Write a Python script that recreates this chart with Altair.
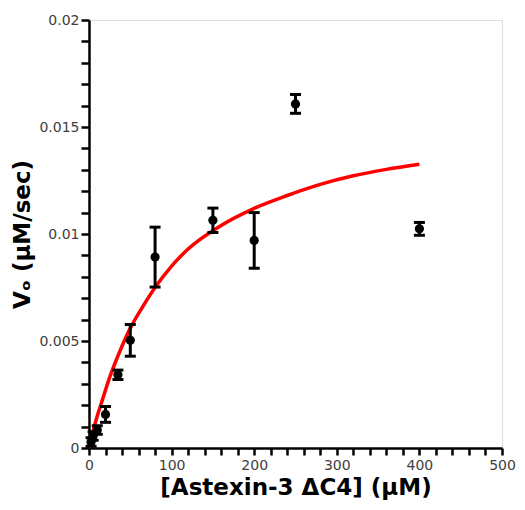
import altair as alt
import pandas as pd

# measured data
conc = [2.5, 5, 10, 20, 35, 50, 80, 150, 200, 250, 400]
rate = [0.00028, 0.00056, 0.00084, 0.00157, 0.00342, 0.00503, 0.00892, 0.01064, 0.00970, 0.01608, 0.01024]
err = [0.0002, 0.0002, 0.0002, 0.00037, 0.00022, 0.00074, 0.0014, 0.00057, 0.0013, 0.00044, 0.0003]

# fitted curve
fit_x = [0, 5, 10, 15, 25, 35, 50, 65, 80, 100, 120, 160, 200, 240, 280, 320, 360, 400]
fit_y = [0.0, 0.0008, 0.0015, 0.0021, 0.0033, 0.0043, 0.0056, 0.0066, 0.0075, 0.0085,
         0.0093, 0.0104, 0.0112, 0.0118, 0.01232, 0.01272, 0.01302, 0.01326]

x_ticks = [0, 20, 40, 60, 80, 100, 120, 140, 160, 180, 200, 220, 240, 260, 280, 300,
           320, 340, 360, 380, 400, 420, 440, 460, 480, 500]
y_ticks = [0, 0.001, 0.002, 0.003, 0.004, 0.005, 0.006, 0.007, 0.008, 0.009, 0.010,
           0.011, 0.012, 0.013, 0.014, 0.015, 0.016, 0.017, 0.018, 0.019, 0.020]

df = pd.DataFrame({"x": conc, "y": rate, "err": err})
df["lo"] = df["y"] - df["err"]
df["hi"] = df["y"] + df["err"]
fit = pd.DataFrame({"x": fit_x, "y": fit_y})

FONT = "DejaVu Sans"

xscale = alt.Scale(domain=[0, 500], nice=False, zero=True)
yscale = alt.Scale(domain=[0, 0.02], nice=False, zero=True)

xaxis = alt.Axis(
    values=x_ticks,
    labelExpr="datum.value % 100 == 0 ? datum.label : ''",
    title="[Astexin-3 \u0394C4] (\u03bcM)",
    grid=False, domainColor="black", domainWidth=2.5,
    tickColor="black", tickWidth=2.5, tickSize=7,
    labelFont=FONT, labelFontSize=14, labelColor="#404040", labelPadding=3,
    titleFont=FONT, titleFontSize=23, titleFontWeight="bold", titleColor="black",
    titlePadding=4, labelFlush=False, labelOverlap=False,
)
yaxis = alt.Axis(
    values=y_ticks,
    labelExpr="round(datum.value*1000) % 5 == 0 ? format(datum.value, '~g') : ''",
    title="V\u2092 (\u03bcM/sec)",
    grid=False, domainColor="black", domainWidth=2.5,
    tickColor="black", tickWidth=2.5, tickSize=8,
    labelFont=FONT, labelFontSize=14, labelColor="#404040", labelPadding=2,
    titleFont=FONT, titleFontSize=23, titleFontWeight="bold", titleColor="black",
    titlePadding=5, minExtent=50, maxExtent=50, labelFlush=False, labelOverlap=False,
)


def X():
    return alt.X("x:Q", scale=xscale, axis=xaxis)


def Y(field):
    return alt.Y(field + ":Q", scale=yscale, axis=yaxis)


curve = alt.Chart(fit).mark_line(color="#ff0000", strokeWidth=3.5, interpolate="monotone").encode(
    x=X(), y=Y("y"),
)
bars = alt.Chart(df).mark_rule(color="black", strokeWidth=3).encode(
    x=X(), y=Y("lo"), y2="hi:Q",
)
cap_lo = alt.Chart(df).mark_tick(color="black", thickness=3, size=11, orient="horizontal", opacity=1).encode(
    x=X(), y=Y("lo"),
)
cap_hi = alt.Chart(df).mark_tick(color="black", thickness=3, size=11, orient="horizontal", opacity=1).encode(
    x=X(), y=Y("hi"),
)
pts = alt.Chart(df).mark_circle(color="black", size=85, opacity=1).encode(
    x=X(), y=Y("y"),
)

chart = alt.layer(curve, bars, cap_lo, cap_hi, pts).properties(
    width=413, height=428,
    autosize=alt.AutoSizeParams(type="none"),
    padding={"left": 81, "top": 12, "right": 15, "bottom": 52},
).configure_view(stroke=None).configure(background="white")

chart.save("out.html", embed_options={"renderer": "svg", "actions": False})
